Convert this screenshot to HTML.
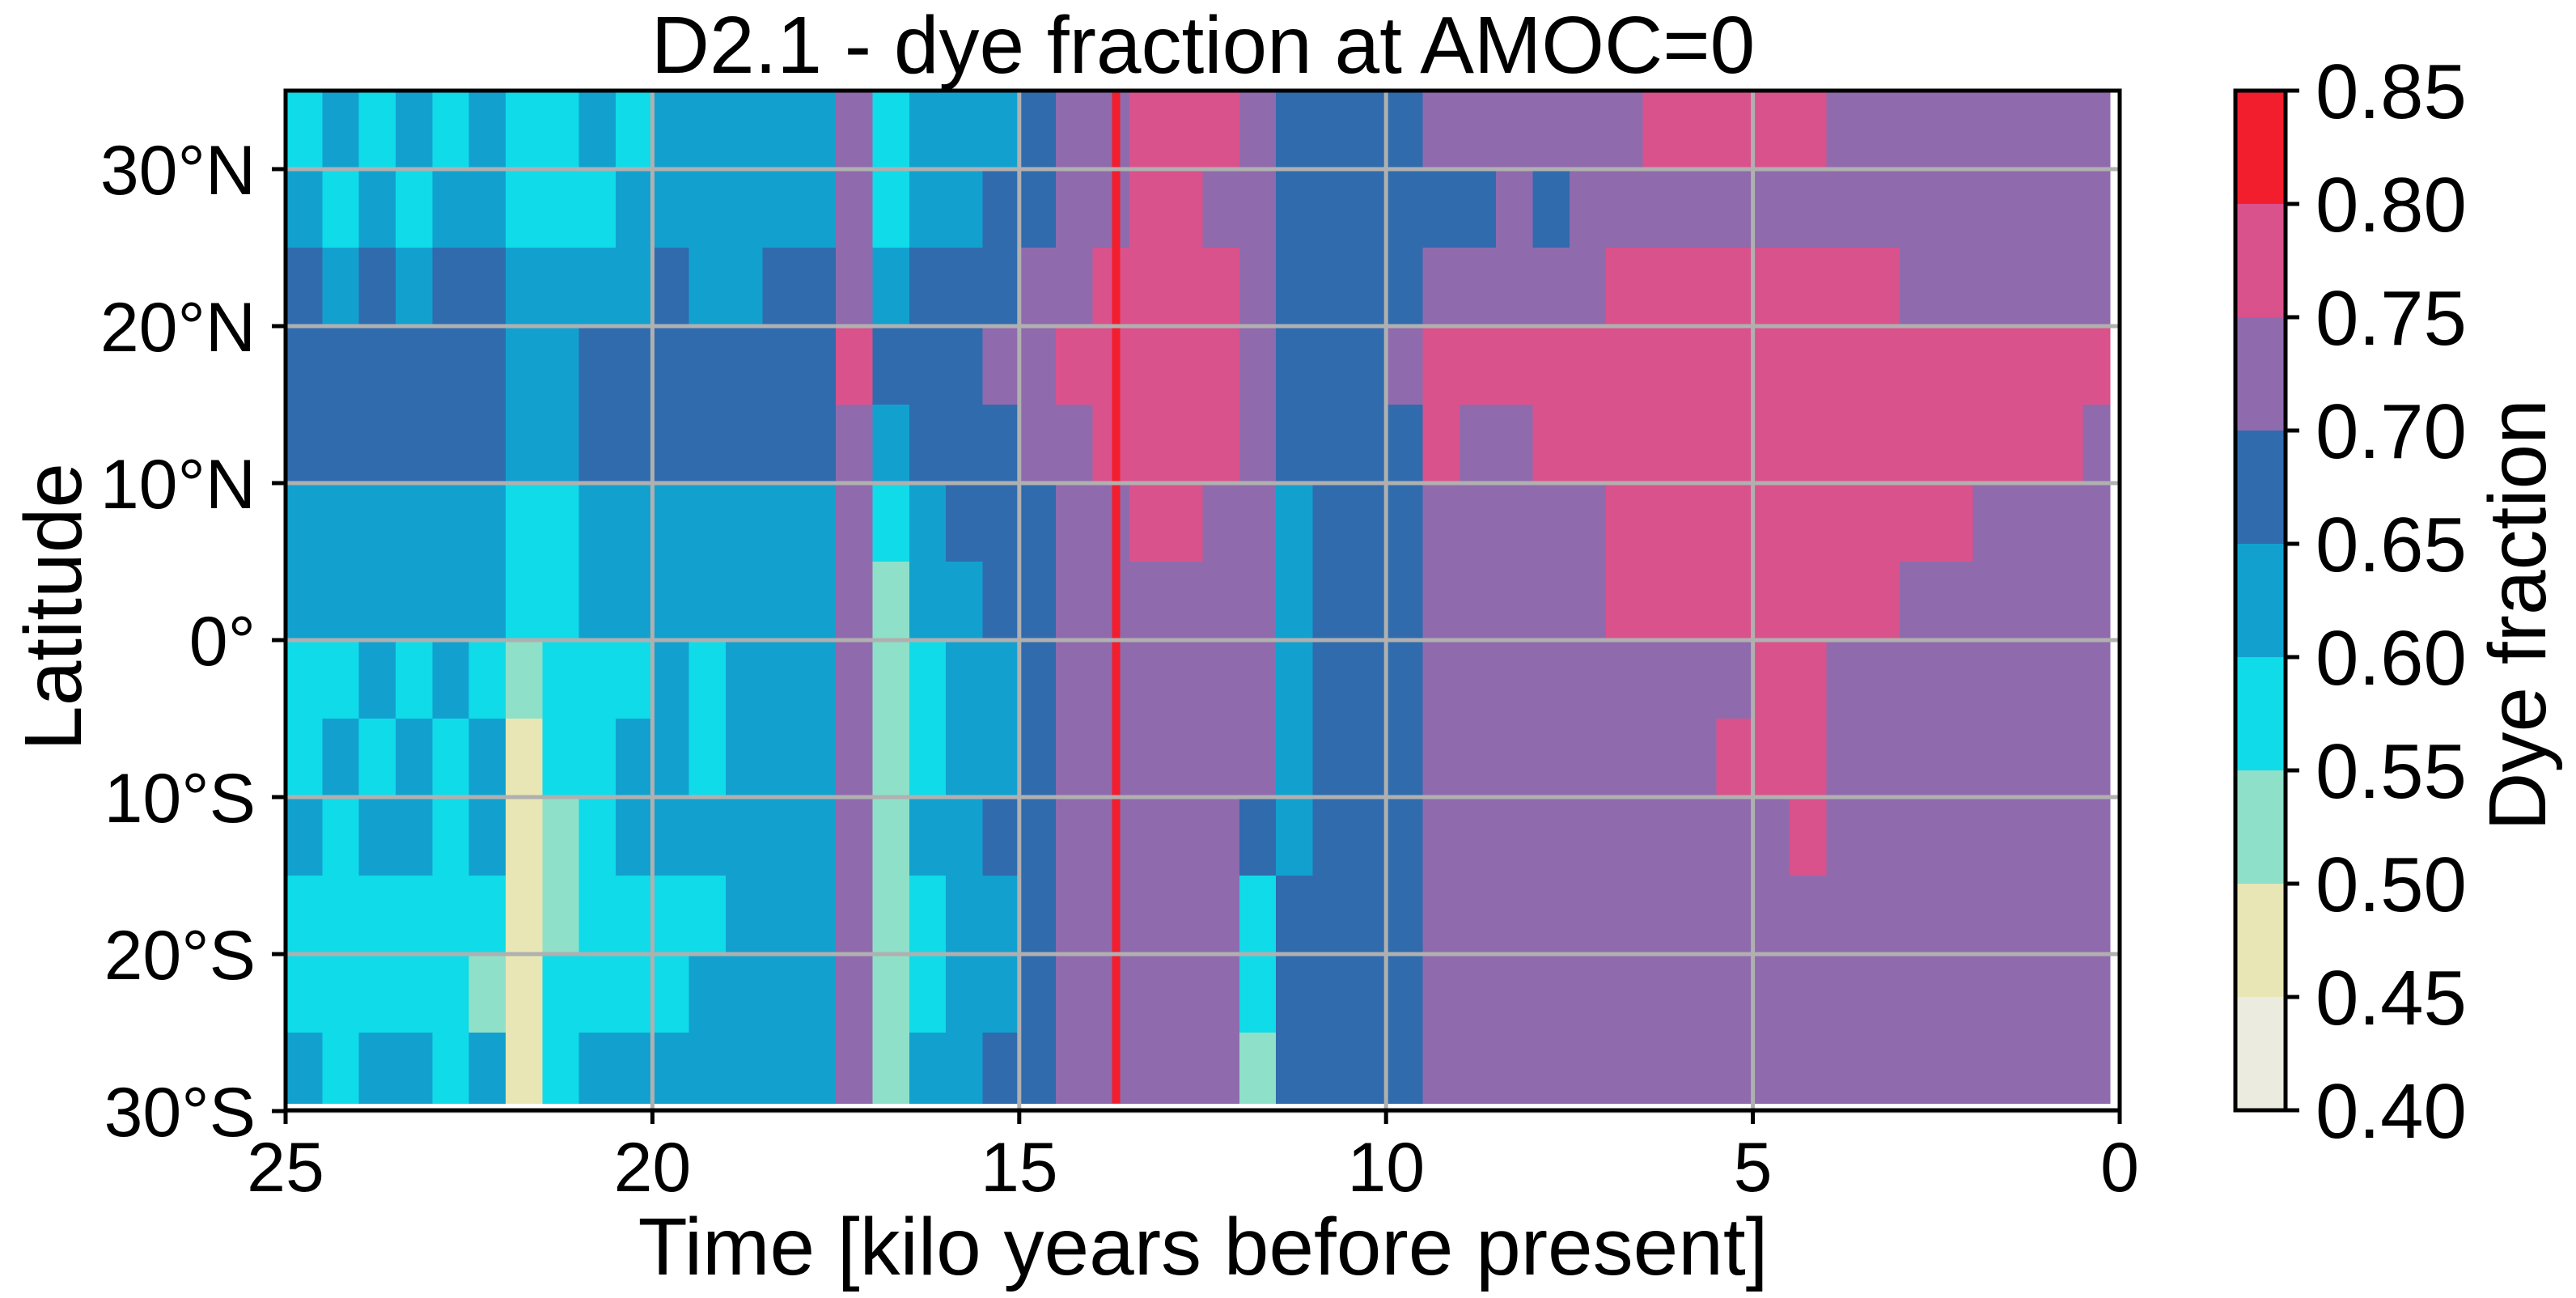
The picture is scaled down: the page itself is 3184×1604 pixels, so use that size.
<!DOCTYPE html>
<html><head><meta charset="utf-8">
<style>
html,body{margin:0;padding:0;background:#fff;}
svg{display:block;}
text{font-family:"Liberation Sans","DejaVu Sans",sans-serif;fill:#000;}
</style></head>
<body>
<svg id="chart" width="3184" height="1604" viewBox="0 0 3184 1604" xmlns="http://www.w3.org/2000/svg">
<g id="cells" shape-rendering="crispEdges"></g>
<g id="grid"></g>
<g id="axes"></g>
<g id="cbar"></g>
<text x="1487" y="90" font-size="100" text-anchor="middle">D2.1 - dye fraction at AMOC=0</text>
<text x="1487" y="1575" font-size="100" text-anchor="middle">Time [kilo years before present]</text>
<text transform="translate(100,750) rotate(-90)" font-size="100" text-anchor="middle">Latitude</text>
<text transform="translate(3146,760) rotate(-90)" font-size="100" text-anchor="middle">Dye fraction</text>
</svg>
<script>
// ---- data ----
const levels = [0.40,0.45,0.50,0.55,0.60,0.65,0.70,0.75,0.80,0.85];
const levelColors = ["#ebecdf","#e8e6b5","#8fe0c8","#10dbe9","#12a1cf","#306bae","#8f6bad","#da528c","#f21e2e"];
const timeEdgesStart = 25, timeStep = 0.5, timeEnd = 0.13;
const latBandTops = [35,30,25,20,15,10,5,0,-5,-10,-15,-20,-25];
const latBottom = -29.5;
const xTicks = [25,20,15,10,5,0];
const xTickLabels = ["25","20","15","10","5","0"];
const yTicks = [30,20,10,0,-10,-20,-30];
const yTickLabels = ["30°N","20°N","10°N","0°","10°S","20°S","30°S"];
const cbarTickLabels = ["0.40","0.45","0.50","0.55","0.60","0.65","0.70","0.75","0.80","0.85"];
const redStreaks = [13.68];
// level index per 0.5-kyr column (25 -> 0), one array per latitude band
const row35N = [3,4,3,4,3,4,3,3,4,3,4,4,4,4,4,6,3,4,4,4,5,6,6,7,7,7,6,5,5,5,5,6,6,6,6,6,6,7,7,7,7,7,6,6,6,6,6,6,6,6];
const row30N = [4,3,4,3,4,4,3,3,3,4,4,4,4,4,4,6,3,4,4,5,5,6,6,7,7,6,6,5,5,5,5,5,5,6,5,6,6,6,6,6,6,6,6,6,6,6,6,6,6,6];
const row25N = [5,4,5,4,5,5,4,4,4,4,5,4,4,5,5,6,4,5,5,5,6,6,7,7,7,7,6,5,5,5,5,6,6,6,6,6,7,7,7,7,7,7,7,7,6,6,6,6,6,6];
const row20N = [5,5,5,5,5,5,4,4,5,5,5,5,5,5,5,7,5,5,5,6,6,7,7,7,7,7,6,5,5,5,6,7,7,7,7,7,7,7,7,7,7,7,7,7,7,7,7,7,7,7];
const row15N = [5,5,5,5,5,5,4,4,5,5,5,5,5,5,5,6,4,5,5,5,6,6,7,7,7,7,6,5,5,5,5,7,6,6,7,7,7,7,7,7,7,7,7,7,7,7,7,7,7,6];
const row10N = [4,4,4,4,4,4,3,3,4,4,4,4,4,4,4,6,3,4,5,5,5,6,6,7,7,6,6,4,5,5,5,6,6,6,6,6,7,7,7,7,7,7,7,7,7,7,6,6,6,6];
const row05N = [4,4,4,4,4,4,3,3,4,4,4,4,4,4,4,6,2,4,4,5,5,6,6,6,6,6,6,4,5,5,5,6,6,6,6,6,7,7,7,7,7,7,7,7,6,6,6,6,6,6];
const row00 = [3,3,4,3,4,3,2,3,3,3,4,3,4,4,4,6,2,3,4,4,5,6,6,6,6,6,6,4,5,5,5,6,6,6,6,6,6,6,6,6,7,7,6,6,6,6,6,6,6,6];
const row05S = [3,4,3,4,3,4,1,3,3,4,4,3,4,4,4,6,2,3,4,4,5,6,6,6,6,6,6,4,5,5,5,6,6,6,6,6,6,6,6,7,7,7,6,6,6,6,6,6,6,6];
const row10S = [4,3,4,4,3,4,1,2,3,4,4,4,4,4,4,6,2,4,4,5,5,6,6,6,6,6,5,4,5,5,5,6,6,6,6,6,6,6,6,6,6,7,6,6,6,6,6,6,6,6];
const row15S = [3,3,3,3,3,3,1,2,3,3,3,3,4,4,4,6,2,3,4,4,5,6,6,6,6,6,3,5,5,5,5,6,6,6,6,6,6,6,6,6,6,6,6,6,6,6,6,6,6,6];
const row20S = [3,3,3,3,3,2,1,3,3,3,3,4,4,4,4,6,2,3,4,4,5,6,6,6,6,6,3,5,5,5,5,6,6,6,6,6,6,6,6,6,6,6,6,6,6,6,6,6,6,6];
const row25S = [4,3,4,4,3,4,1,3,4,4,4,4,4,4,4,6,2,4,4,5,5,6,6,6,6,6,2,5,5,5,5,6,6,6,6,6,6,6,6,6,6,6,6,6,6,6,6,6,6,6];
const rows = [row35N,row30N,row25N,row20N,row15N,row10N,row05N,row00,row05S,row10S,row15S,row20S,row25S];

// ---- scales ----
const X0 = 353, X1 = 2620;            // 25 -> 0 kyr
const Y30N = 209, PXDEG = 19.4;       // lat scale
const xs = t => X0 + (25 - t) * (X1 - X0) / 25;
const ys = lat => Y30N + (30 - lat) * PXDEG;
const NS = "http://www.w3.org/2000/svg";
function mk(tag, attrs, parent){
  const e = document.createElementNS(NS, tag);
  for (const k in attrs) e.setAttribute(k, attrs[k]);
  parent.appendChild(e);
  return e;
}
const cells = document.getElementById('cells');
rows.forEach((row, r) => {
  const top = latBandTops[r];
  const bot = r + 1 < latBandTops.length ? latBandTops[r + 1] : latBottom;
  row.forEach((lv, i) => {
    const t0 = timeEdgesStart - i * timeStep;
    const t1 = Math.max(timeEnd, t0 - timeStep);
    const rc = mk('rect', {x: xs(t0), y: ys(top), width: xs(t1) - xs(t0) + 0.5, height: ys(bot) - ys(top) + 0.5, fill: levelColors[lv]}, cells);
    
    
  });
});
redStreaks.forEach(t => {
  const s = mk('rect', {x: xs(t) - 5, y: ys(35), width: 10, height: ys(latBottom) - ys(35), fill: levelColors[8]}, cells);
  
  
});
const grid = document.getElementById('grid');
const axes = document.getElementById('axes');
yTicks.forEach((lat, k) => {
  const y = ys(lat);
  const g = mk('line', {x1: X0, x2: X1, y1: y, y2: y, stroke: '#b0b0b0', 'stroke-width': 5}, grid);
  
  
  const tk = mk('line', {x1: X0 - 17, x2: X0, y1: y, y2: y, stroke: '#000', 'stroke-width': 5}, axes);
  
  
  const tx = mk('text', {x: 316, y: y + 31, 'font-size': 86, 'text-anchor': 'end'}, axes);
  tx.textContent = yTickLabels[k];
  
  
});
xTicks.forEach((t, k) => {
  const x = xs(t);
  const g = mk('line', {x1: x, x2: x, y1: 112, y2: 1372, stroke: '#b0b0b0', 'stroke-width': 5}, grid);
  
  
  const tk = mk('line', {x1: x, x2: x, y1: 1372, y2: 1389, stroke: '#000', 'stroke-width': 5}, axes);
  
  
  const tx = mk('text', {x: x, y: 1472, 'font-size': 86, 'text-anchor': 'middle'}, axes);
  tx.textContent = xTickLabels[k];
  
  
});
const frame = mk('rect', {x: X0, y: 112, width: X1 - X0, height: 1372 - 112, fill: 'none', stroke: '#000', 'stroke-width': 5}, axes);



// colorbar
const cb = document.getElementById('cbar');
const CBX = 2763, CBW = 62, CBT = 112, CBB = 1372;
const cy = v => CBB - (v - levels[0]) / (levels[levels.length - 1] - levels[0]) * (CBB - CBT);
levelColors.forEach((c, i) => {
  const r = mk('rect', {x: CBX, y: cy(levels[i + 1]), width: CBW, height: cy(levels[i]) - cy(levels[i + 1]), fill: c}, cb);
  
  
});
const cbf = mk('rect', {x: CBX, y: CBT, width: CBW, height: CBB - CBT, fill: 'none', stroke: '#000', 'stroke-width': 5}, cb);


levels.forEach((v, i) => {
  const y = cy(v);
  const tk = mk('line', {x1: CBX + CBW, x2: CBX + CBW + 17, y1: y, y2: y, stroke: '#000', 'stroke-width': 5}, cb);
  
  
  const tx = mk('text', {x: 2862, y: y + 34, 'font-size': 96}, cb);
  tx.textContent = cbarTickLabels[i];
  
  
});
</script>
</body></html>
